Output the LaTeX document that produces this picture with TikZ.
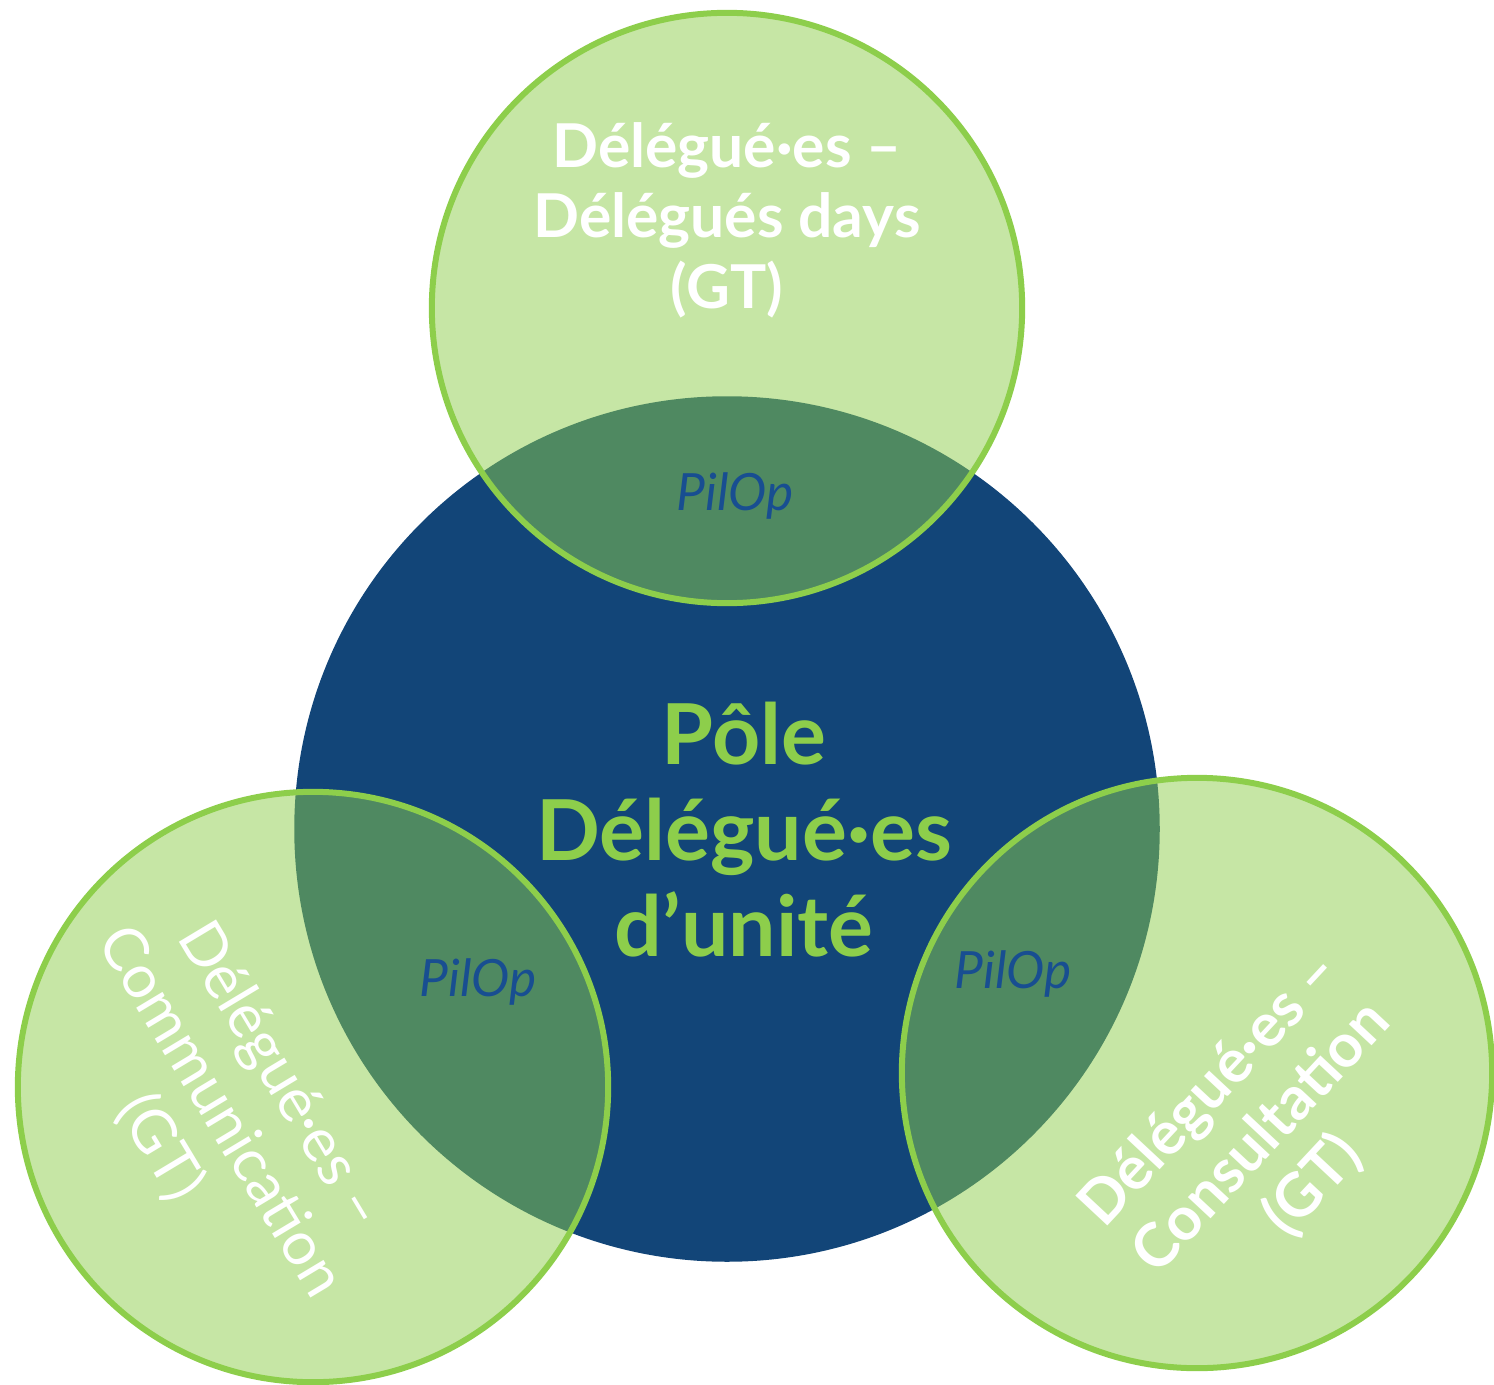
\documentclass[tikz,border=0pt]{standalone}
\usepackage{fontspec}
\setmainfont{Lato}
\definecolor{poleblue}{RGB}{18,69,120}
\definecolor{polegreen}{RGB}{141,206,75}
\definecolor{pilopblue}{RGB}{24,78,145}
\begin{document}
\begin{tikzpicture}[x=0.01cm,y=-0.01cm,
  pole/.style={circle,fill=poleblue,minimum size=8.65cm,inner sep=0pt},
  groupe/.style={circle,draw=polegreen,fill=polegreen,fill opacity=0.5,draw opacity=1,
    line width=0.06cm,minimum size=5.9cm,inner sep=0pt},
  grtext/.style={text=white,align=center,inner sep=0pt,
    font=\fontsize{17.2}{20}\selectfont\bfseries},
  pilop/.style={text=pilopblue,inner sep=0pt,font=\fontsize{14.6}{16}\selectfont\itshape}]
  \useasboundingbox (0,0) rectangle (1494,1385);
  \node [pole] (pole) at (727,829) {};
  \node [groupe] (days) at (727,308) {};
  \node [groupe] (comm) at (313,1087) {};
  \node [groupe] (consult) at (1197,1073) {};
  \node [text=polegreen,align=center,inner sep=0pt,
    font=\fontsize{23.9}{27.3}\selectfont\bfseries] (titre) at (744,830)
    {Pôle\\Délégué·es\\d’unité};
  \node [grtext] (daystxt) at (727,220) {Délégué·es –\\Délégués days\\(GT)};
  \node [grtext,font=\fontsize{17.2}{20}\selectfont,rotate=-59] (commtxt) at (220,1112)
    {Délégué·es –\\Communication\\(GT)};
  \node [grtext,rotate=47] (consulttxt) at (1262,1138) {Délégué·es –\\Consultation\\(GT)};
  \node [pilop] (pilop1) at (735,496) {PilOp};
  \node [pilop] (pilop2) at (478,982) {PilOp};
  \node [pilop] (pilop3) at (1013,974) {PilOp};
\end{tikzpicture}
\end{document}
